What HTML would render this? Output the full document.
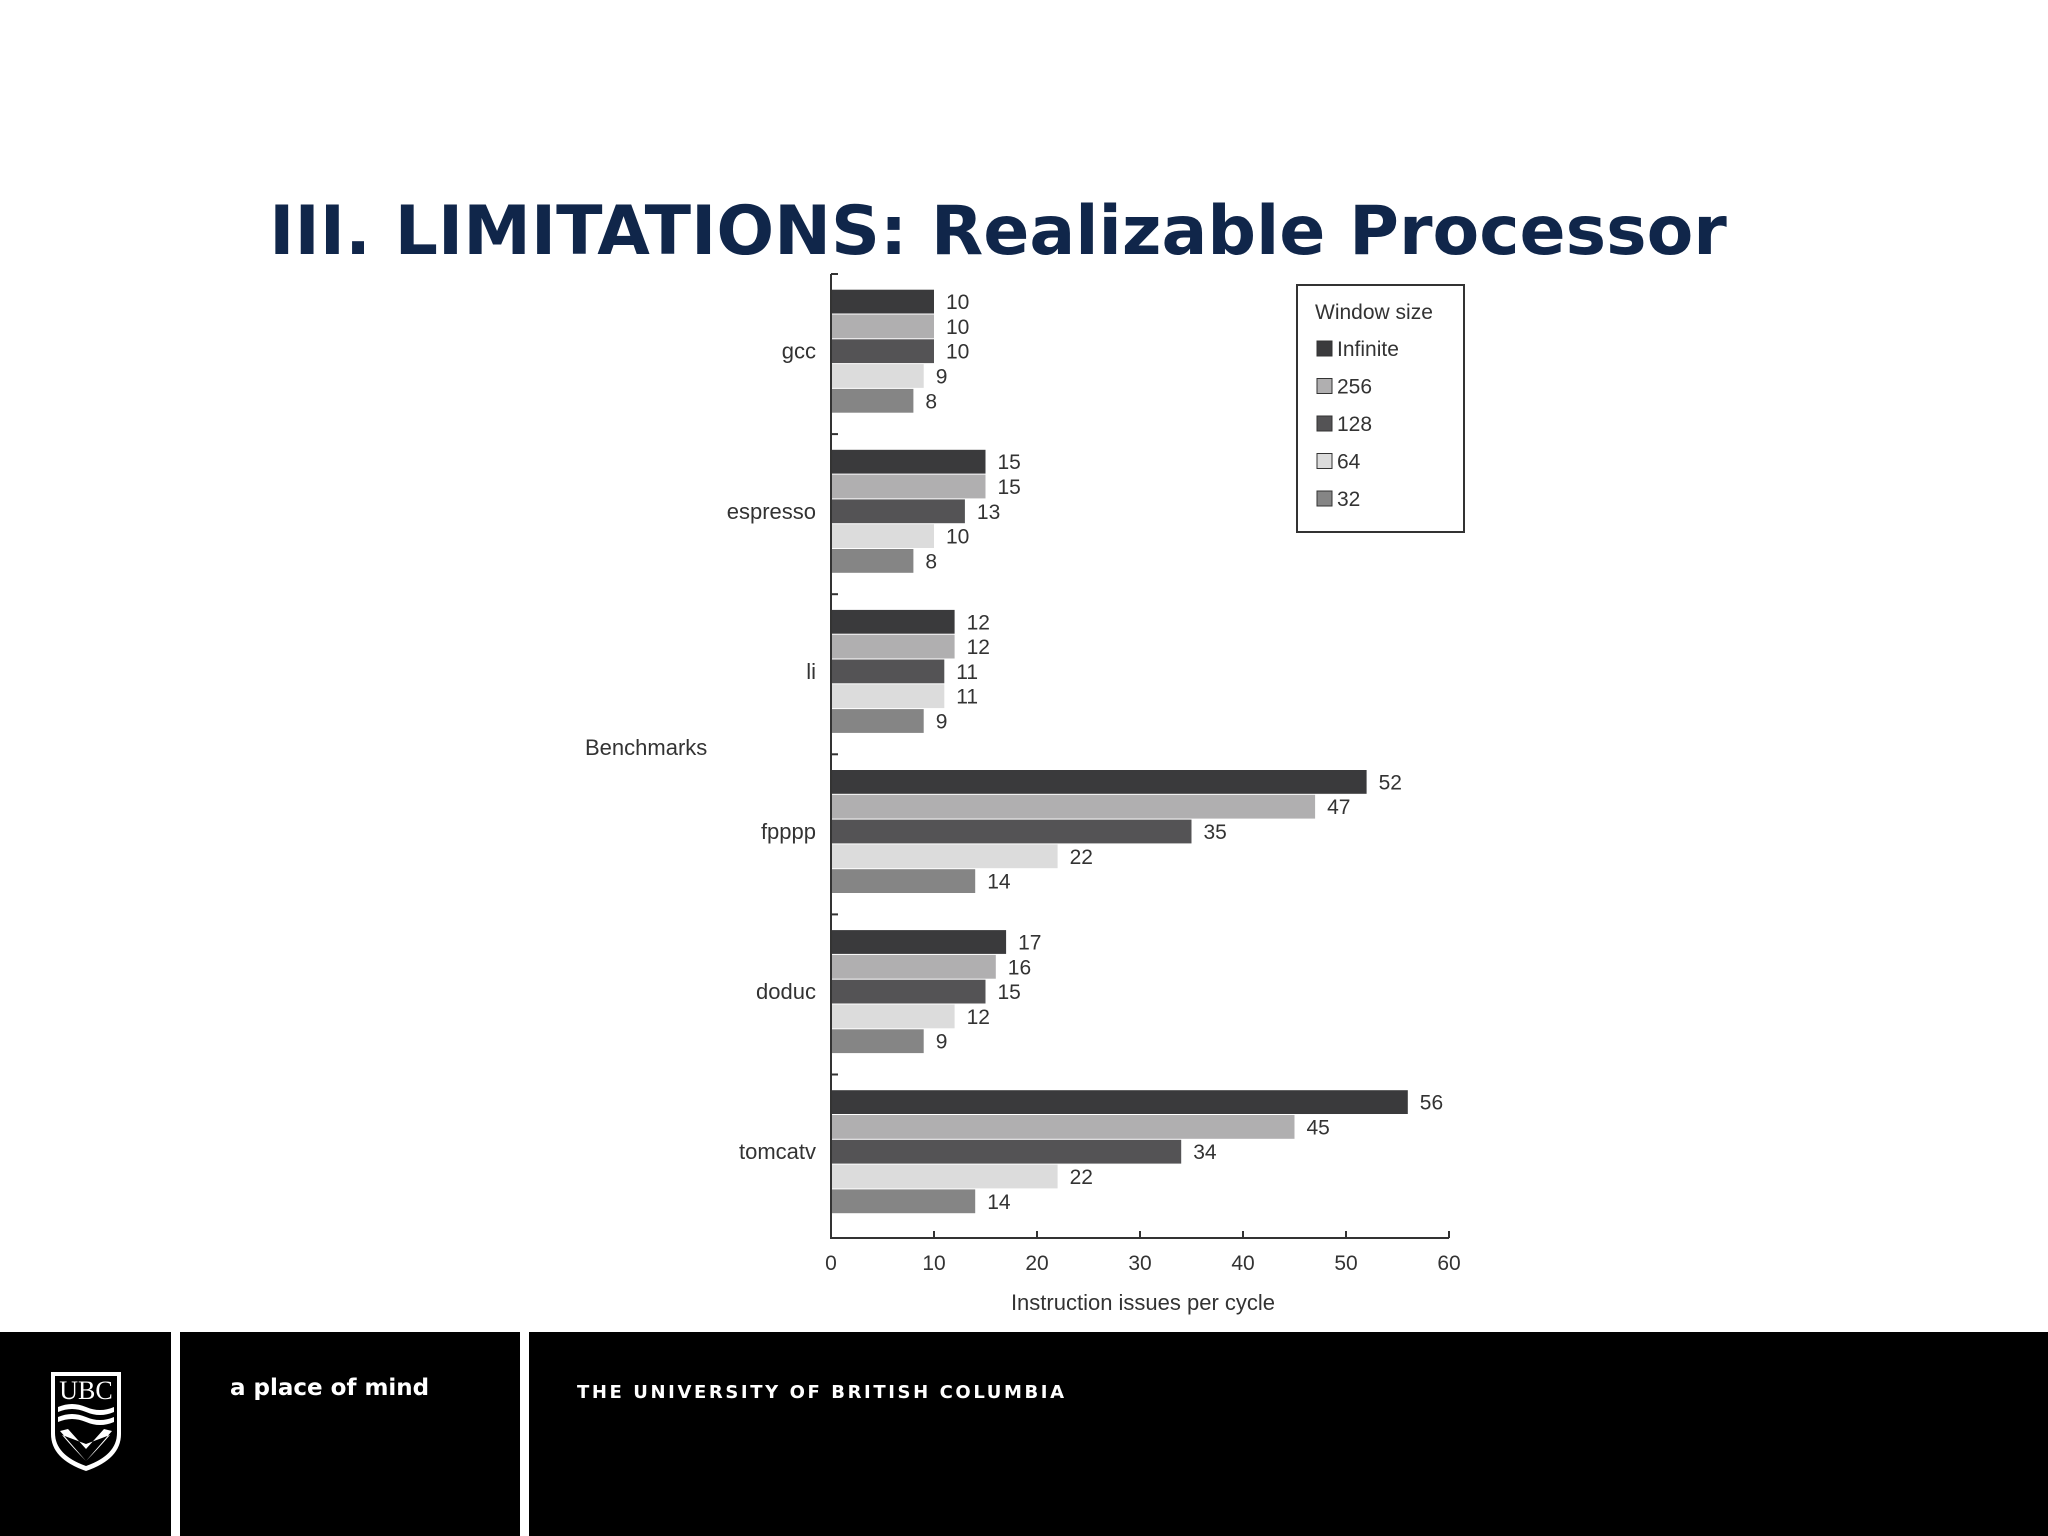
<!DOCTYPE html>
<html><head><meta charset="utf-8"><style>
body{margin:0;width:2048px;height:1536px;background:#fff;overflow:hidden;position:relative;font-family:"Liberation Sans",sans-serif}
#title{position:absolute;left:-26px;width:2048px;top:192px;text-align:center;font-family:"DejaVu Sans",sans-serif;font-weight:bold;font-size:68px;color:#10264a;margin:0}
#footer{position:absolute;left:0;top:1332px;width:2048px;height:204px;background:#000}
.gap{position:absolute;top:1332px;height:204px;background:#fff}
</style></head><body>
<h1 id="title">III. LIMITATIONS: Realizable Processor</h1>
<svg id="chart" width="2048" height="1332" style="position:absolute;left:0;top:0" font-family="Liberation Sans, sans-serif"></svg>
<div id="footer"></div>
<div class="gap" style="left:171px;width:9px"></div>
<div class="gap" style="left:520px;width:9px"></div>
<svg width="80" height="105" style="position:absolute;left:46px;top:1369px" viewBox="0 0 80 105">
<path d="M5 3 H75 V65 Q75 90 40 102 Q5 90 5 65 Z" fill="#fff"/>
<path d="M9 7 H71 V64 Q71 86 40 97 Q9 86 9 64 Z" fill="#000"/>
<text x="40" y="30" fill="#fff" font-size="26" text-anchor="middle" font-family="Liberation Serif, serif">UBC</text>
<path d="M12 38 Q26 32 40 38 Q54 44 68 38 V43 Q54 49 40 43 Q26 37 12 43Z M12 48 Q26 42 40 48 Q54 54 68 48 V53 Q54 59 40 53 Q26 47 12 53Z" fill="#fff"/>
<path d="M14 62 L40 92 L66 62 L58 60 L40 80 L22 60Z M40 92 Q28 80 16 66 L40 75 L64 66 Q52 80 40 92Z" fill="#fff"/>
</svg>
<div style="position:absolute;left:230px;top:1375px;color:#fff;font-family:'DejaVu Sans',sans-serif;font-size:23px;font-weight:bold">a place of mind</div>
<div style="position:absolute;left:577px;top:1382px;color:#fff;font-family:'DejaVu Sans',sans-serif;font-size:18px;font-weight:bold;letter-spacing:2.6px">THE UNIVERSITY OF BRITISH COLUMBIA</div>
<script>
const categories=["gcc","espresso","li","fpppp","doduc","tomcatv"];
const seriesNames=["Infinite","256","128","64","32"];
const sInfinite=[10,15,12,52,17,56];
const s256=[10,15,12,47,16,45];
const s128=[10,13,11,35,15,34];
const s64=[9,10,11,22,12,22];
const s32=[8,8,9,14,9,14];
const series=[sInfinite,s256,s128,s64,s32];
const xTicks=[0,10,20,30,40,50,60];
const colors=["#3a3a3c","#b0afb0","#545355","#dcdcdc","#858585"];
const svg=document.getElementById('chart');
const NS="http://www.w3.org/2000/svg";
const X0=831,X1=1449,Y0=274,Y1=1238;
const x=v=>X0+(v-0)/(60-0)*(X1-X0);
const band=160.1;
const barH=24.8,off=15.7;
const y=(i,j)=>Y0+i*band+off+j*barH;
function mk(t,a){const e=document.createElementNS(NS,t);for(const k in a)e.setAttribute(k,a[k]);svg.appendChild(e);return e;}
categories.forEach((c,i)=>{
  series.forEach((s,j)=>{
    const r=mk('rect',{x:X0,y:y(i,j),width:x(s[i])-X0,height:barH-1,fill:colors[j]});
    
    
    const t=mk('text',{x:x(s[i])+12,y:y(i,j)+barH/2+7,'font-size':21,fill:'#333'});
    t.textContent=s[i];
    
    
  });
  const l=mk('text',{x:816,y:Y0+i*band+off+2.5*barH+7,'font-size':22,fill:'#333','text-anchor':'end'});
  l.textContent=c;
  
  
  const tk=mk('line',{x1:X0,x2:X0+7,y1:Y0+i*band,y2:Y0+i*band,stroke:'#333','stroke-width':2});
  
  
});
const ax=mk('path',{d:`M${X0} ${Y0} V${Y1} H${X1}`,stroke:'#333','stroke-width':2,fill:'none'});


xTicks.forEach(v=>{
  const tl=mk('line',{x1:x(v),x2:x(v),y1:Y1,y2:Y1-7,stroke:'#333','stroke-width':2});
  
  
  const t=mk('text',{x:x(v),y:1270,'font-size':21,fill:'#333','text-anchor':'middle'});
  t.textContent=v;
  
  
});
let t=mk('text',{x:1143,y:1310,'font-size':22,fill:'#333','text-anchor':'middle'});
t.textContent='Instruction issues per cycle';


t=mk('text',{x:585,y:755,'font-size':22,fill:'#333'});
t.textContent='Benchmarks';


const lb=mk('rect',{x:1297,y:285,width:167,height:247,fill:'#fff',stroke:'#333','stroke-width':2});


t=mk('text',{x:1315,y:319,'font-size':21,fill:'#333'});
t.textContent='Window size';


seriesNames.forEach((n,j)=>{
  const ly=349+j*37.5;
  const sw=mk('rect',{x:1317,y:ly-8,width:15,height:15,fill:colors[j],stroke:'#333','stroke-width':1});
  
  
  const lt=mk('text',{x:1337,y:ly+7,'font-size':21,fill:'#333'});
  lt.textContent=n;
  
  
});
</script>
</body></html>
